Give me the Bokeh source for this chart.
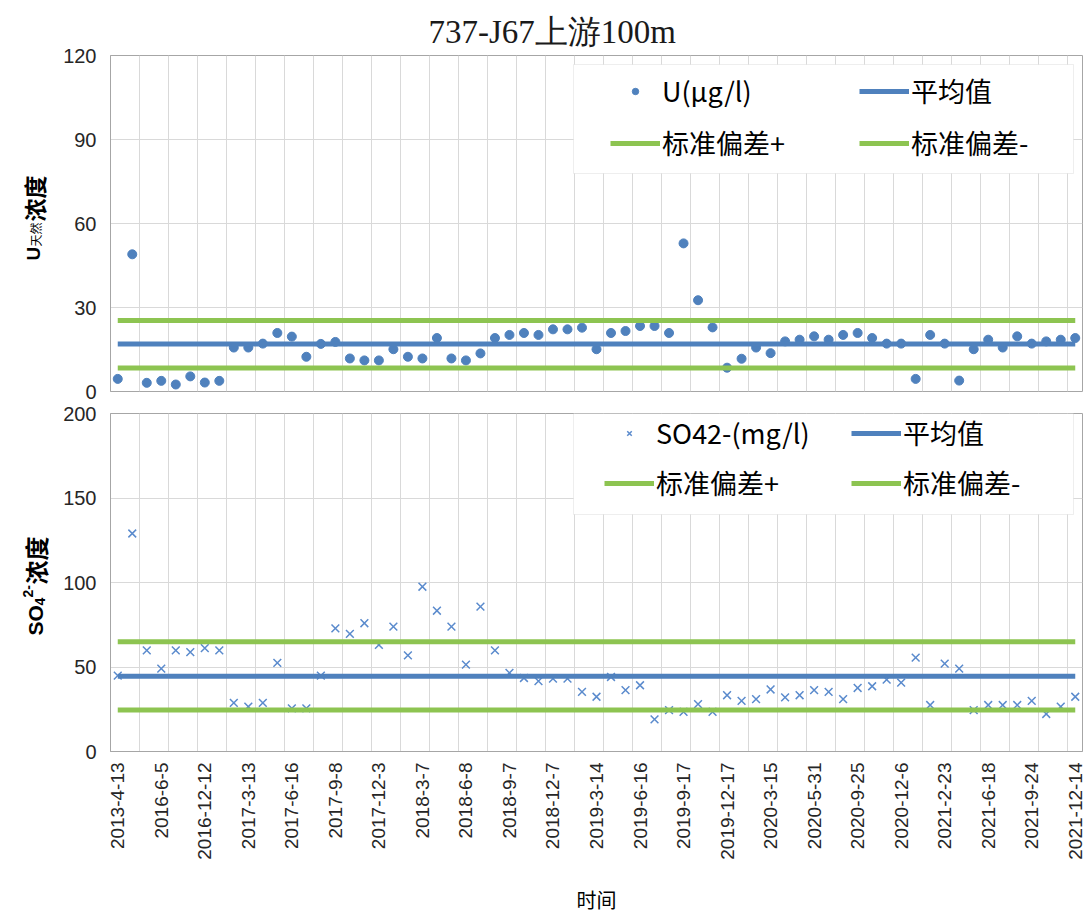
import math
from bokeh.plotting import figure
from bokeh.models import (FixedTicker, Legend, LegendItem, BoxAnnotation, Label, Range1d)
from bokeh.layouts import column, row
from bokeh.embed import file_html
from bokeh.resources import INLINE

# ---------------- data ----------------
title_text = "737-J67上游100m"
tick_dates = ["2013-4-13", "2016-6-5", "2016-12-12", "2017-3-13", "2017-6-16", "2017-9-8",
              "2017-12-3", "2018-3-7", "2018-6-8", "2018-9-7", "2018-12-7", "2019-3-14",
              "2019-6-16", "2019-9-17", "2019-12-17", "2020-3-15", "2020-5-31", "2020-9-25",
              "2020-12-6", "2021-2-23", "2021-6-18", "2021-9-24", "2021-12-14"]
tick_every = 3

u_values = [4.5, 49.0, 3.1, 3.8, 2.5, 5.4, 3.2, 3.8, 15.7, 15.7,
            17.1, 20.9, 19.6, 12.4, 17.0, 17.7, 11.8, 11.1, 11.1, 15.1,
            12.4, 11.8, 19.1, 11.8, 11.1, 13.6, 19.1, 20.2, 20.9, 20.2,
            22.2, 22.2, 22.8, 15.1, 20.9, 21.6, 23.4, 23.4, 20.9, 52.9,
            32.6, 22.9, 8.5, 11.7, 15.7, 13.7, 17.9, 18.5, 19.7, 18.5,
            20.2, 20.9, 19.1, 17.1, 17.1, 4.5, 20.2, 17.1, 3.9, 15.1,
            18.5, 15.7, 19.7, 17.1, 17.9, 18.5, 19.1]
u_mean = 17.0
u_std_plus = 25.4
u_std_minus = 8.4

so4_values = [44.9, 129.0, 59.8, 49.0, 59.8, 58.8, 61.2, 59.8, 28.8, 26.5,
              28.8, 52.4, 25.5, 25.5, 44.9, 72.9, 69.6, 75.9, 63.1, 73.9,
              56.9, 97.5, 83.3, 73.9, 51.4, 85.7, 59.8, 46.5, 43.5, 41.6,
              43.1, 43.1, 35.3, 32.4, 44.1, 36.3, 39.2, 19.0, 24.5, 23.5,
              28.0, 23.5, 33.3, 30.0, 31.0, 36.7, 32.0, 33.3, 36.3, 35.3,
              31.0, 37.6, 38.6, 42.5, 40.8, 55.5, 27.5, 52.0, 49.0, 24.5,
              27.5, 27.5, 27.5, 30.0, 22.2, 26.5, 32.4]
so4_mean = 44.6
so4_std_plus = 65.0
so4_std_minus = 24.6

u_ticks = [0, 30, 60, 90, 120]
so4_ticks = [0, 50, 100, 150, 200]

label_u = "U(μg/l)"
label_so4 = "SO42-(mg/l)"
label_mean = "平均值"
label_plus = "标准偏差+"
label_minus = "标准偏差-"
x_title = "时间"

# ---------------- style ----------------
BLUE = "#4F81BD"
BLUE_X = "#5B8BCD"
GREEN = "#8DC451"
GRID = "#D9D9D9"
OUTLINE = "#A6A6A6"
TXT = "#262626"
LAT = "Liberation Sans"
CJK = "Noto Sans CJK SC"
LAB_W = 60          # width of the strip holding the rotated y titles
TOTAL_H = 916
TOP_H = 402
BOT_H = TOTAL_H - TOP_H

n = len(u_values)
xs = list(range(n))
tick_pos = [i * tick_every for i in range(len(tick_dates))]
grid_pos = [i + 0.5 for i in range(1, n - 1, 2)]


def base_fig(height, yr, yticks, top, bottom):
    p = figure(width=1090 - LAB_W, height=height, x_range=Range1d(-0.5, n - 0.5), y_range=yr,
               output_backend="svg", toolbar_location=None,
               min_border_left=108 - LAB_W, min_border_right=8,
               min_border_top=top, min_border_bottom=bottom)
    p.outline_line_color = OUTLINE
    p.outline_line_width = 1
    p.xgrid.ticker = FixedTicker(ticks=grid_pos)
    p.xgrid.grid_line_color = GRID
    p.ygrid.grid_line_color = GRID
    p.yaxis.ticker = FixedTicker(ticks=yticks)
    p.yaxis.axis_line_color = OUTLINE
    p.yaxis.major_tick_line_color = None
    p.yaxis.minor_tick_line_color = None
    p.yaxis.major_label_text_font = LAT
    p.yaxis.major_label_text_font_size = "20px"
    p.yaxis.major_label_text_color = TXT
    p.yaxis.major_label_standoff = 8
    return p


def add_legend(p, items, box, loc, spacing):
    l, r, t, b = box
    p.add_layout(BoxAnnotation(left=l, right=r, top=t, bottom=b,
                               left_units="screen", right_units="screen",
                               top_units="screen", bottom_units="screen",
                               fill_color="white", fill_alpha=1.0,
                               line_color="#C8C8C8", line_width=1, level="overlay"))
    lg = Legend(items=items, location=loc, orientation="horizontal", ncols=2,
                padding=0, spacing=spacing, margin=0,
                glyph_width=50, glyph_height=16, label_height=36, label_width=184,
                label_standoff=2, label_text_font=CJK, label_text_font_size="27px",
                label_text_color="#000000", border_line_color=None,
                background_fill_alpha=0, level="overlay")
    p.add_layout(lg)


# strip on the left that carries the rotated y titles (coordinates = pixels from bottom)
strip = figure(width=LAB_W, height=TOTAL_H, x_range=Range1d(0, LAB_W), y_range=Range1d(0, TOTAL_H),
               output_backend="svg", toolbar_location=None,
               min_border_left=0, min_border_right=0, min_border_top=0, min_border_bottom=0)
strip.axis.visible = False
strip.grid.visible = False
strip.outline_line_color = None


def rot_label(text, x, y, size, font, bold=True):
    strip.add_layout(Label(x=x, y=y, text=text, angle=math.pi / 2,
                           text_align="left", text_baseline="alphabetic",
                           text_font=font, text_font_size=size, text_color="#000000",
                           text_font_style="bold" if bold else "normal"))


# ---------------- top panel ----------------
p1 = base_fig(TOP_H, Range1d(0, 120), u_ticks, 55, 11)
p1.xaxis.visible = False
p1.title.text = title_text
p1.title.text_font = "Liberation Serif"
p1.title.text_font_size = "33px"
p1.title.text_font_style = "normal"
p1.title.text_color = "#1a1a1a"
p1.title.align = "left"
p1.title.offset = 318
p1.title.standoff = 12

r_u = p1.scatter(xs, u_values, marker="circle", size=9, fill_color=BLUE, line_color=BLUE)
r_um = p1.line([xs[0], xs[-1]], [u_mean, u_mean], line_width=5, line_color=BLUE)
r_up = p1.line([xs[0], xs[-1]], [u_std_plus, u_std_plus], line_width=5, line_color=GREEN)
r_un = p1.line([xs[0], xs[-1]], [u_std_minus, u_std_minus], line_width=5, line_color=GREEN)

add_legend(p1, [LegendItem(label=label_u, renderers=[r_u]),
                LegendItem(label=label_mean, renderers=[r_um]),
                LegendItem(label=label_plus, renderers=[r_up]),
                LegendItem(label=label_minus, renderers=[r_un])],
           (463, 963, 327, 218), (500, 229), 13)

rot_label("U", 33, 656, "19px", LAT)
rot_label("天然", 35, 670, "12px", CJK, bold=False)
rot_label("浓度", 33, 695, "23px", CJK)

# ---------------- bottom panel ----------------
p2 = base_fig(BOT_H, Range1d(0, 200), so4_ticks, 11, 158)
p2.x_range = p1.x_range
p2.xaxis.ticker = FixedTicker(ticks=tick_pos)
p2.xaxis.major_label_overrides = {pos: lab for pos, lab in zip(tick_pos, tick_dates)}
p2.xaxis.major_label_orientation = math.pi / 2
p2.xaxis.major_label_text_font = LAT
p2.xaxis.major_label_text_font_size = "19px"
p2.xaxis.major_label_text_color = TXT
p2.xaxis.major_label_standoff = 5
p2.xaxis.major_tick_line_color = None
p2.xaxis.minor_tick_line_color = None
p2.xaxis.axis_line_color = OUTLINE
p2.xaxis.axis_label = x_title
p2.xaxis.axis_label_text_font = CJK
p2.xaxis.axis_label_text_font_size = "20px"
p2.xaxis.axis_label_text_font_style = "normal"
p2.xaxis.axis_label_text_color = "#000000"
p2.xaxis.axis_label_standoff = 22

r_s = p2.scatter(xs, so4_values, marker="x", size=11, line_color=BLUE_X, line_width=1.5)
r_sm = p2.line([xs[0], xs[-1]], [so4_mean, so4_mean], line_width=5, line_color=BLUE)
r_sp = p2.line([xs[0], xs[-1]], [so4_std_plus, so4_std_plus], line_width=5, line_color=GREEN)
r_sn = p2.line([xs[0], xs[-1]], [so4_std_minus, so4_std_minus], line_width=5, line_color=GREEN)

add_legend(p2, [LegendItem(label=label_so4, renderers=[r_s]),
                LegendItem(label=label_mean, renderers=[r_sm]),
                LegendItem(label=label_plus, renderers=[r_sp]),
                LegendItem(label=label_minus, renderers=[r_sn])],
           (463, 963, 338, 237), (494, 249), 11)

rot_label("SO", 35, 281, "21px", LAT)
rot_label("4", 39, 311, "14px", LAT)
rot_label("2-", 27, 319, "14px", LAT)
rot_label("浓度", 35, 332, "24px", CJK)

layout = row(strip, column(p1, p2, spacing=0), spacing=0)
open("out.html", "w").write(file_html(layout, INLINE))
